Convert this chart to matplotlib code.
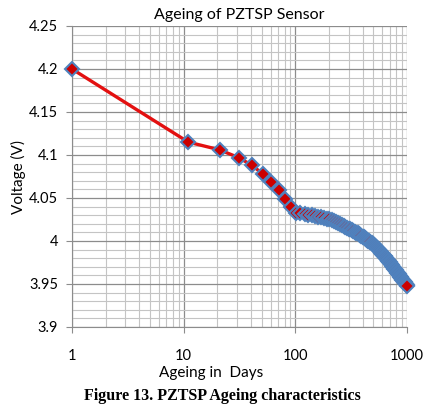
import matplotlib.pyplot as plt
from matplotlib.ticker import MultipleLocator, FixedLocator, NullFormatter

# ageing test: one reading every 10 days
days = list(range(1, 1001, 10)) + [1000]
voltage = [
    4.200, 4.115, 4.106, 4.097, 4.088, 4.078, 4.069, 4.059, 4.049, 4.040,
    4.0330, 4.0322, 4.0314, 4.0306, 4.0298, 4.0290, 4.0282, 4.0274, 4.0266, 4.0258, 4.0250,
    4.0240, 4.0229, 4.0219, 4.0208, 4.0198, 4.0187, 4.0177, 4.0166, 4.0156, 4.0145,
    4.0136, 4.0126, 4.0117, 4.0107, 4.0098, 4.0088, 4.0079, 4.0069, 4.0060, 4.0050,
    4.0041, 4.0032, 4.0023, 4.0014, 4.0005, 3.9996, 3.9987, 3.9978, 3.9969, 3.9960,
    3.9949, 3.9938, 3.9927, 3.9916, 3.9905, 3.9894, 3.9883, 3.9872, 3.9861, 3.9850,
    3.9840, 3.9830, 3.9820, 3.9810, 3.9800, 3.9790, 3.9780, 3.9770, 3.9760, 3.9750,
    3.9740, 3.9730, 3.9720, 3.9710, 3.9700, 3.9690, 3.9680, 3.9670, 3.9660, 3.9650,
    3.9641, 3.9632, 3.9623, 3.9614, 3.9605, 3.9596, 3.9587, 3.9578, 3.9569, 3.9560,
    3.9552, 3.9544, 3.9536, 3.9528, 3.9520, 3.9512, 3.9504, 3.9496, 3.9488, 3.9480,
]
yticks = [3.9, 3.95, 4.0, 4.05, 4.1, 4.15, 4.2, 4.25]
ytick_labels = ["3.9", "3.95", "4", "4.05", "4.1", "4.15", "4.2", "4.25"]
xticks = [1, 10, 100, 1000]
xtick_labels = ["1", "10", "100", "1000"]

plt.rcParams['font.family'] = ['Lato', 'DejaVu Sans']

fig = plt.figure(figsize=(4.33, 4.04), dpi=100)
ax = fig.add_axes([72/433, 1-327/404, 335/433, 301/404])

ax.plot(days, voltage, color='#e31010', lw=2.4, marker='D', ms=7.2,
        mfc='#cc0000', mec='#4f81bd', mew=1.5, clip_on=False, zorder=3)

ax.set_xscale('log')
ax.set_xlim(1, 1000)
ax.set_ylim(3.9, 4.25)
ax.xaxis.set_major_locator(FixedLocator(xticks))
ax.set_xticklabels(xtick_labels)
ax.xaxis.set_minor_formatter(NullFormatter())
ax.set_yticks(yticks)
ax.set_yticklabels(ytick_labels)
ax.yaxis.set_minor_locator(MultipleLocator(0.01))

ax.grid(which='major', color='#8c8c8c', lw=0.9)
ax.grid(which='minor', color='#c4c4c4', lw=0.8)
ax.set_axisbelow(True)
for s in ['top', 'right']:
    ax.spines[s].set_visible(False)
for s in ['left', 'bottom']:
    ax.spines[s].set_color('#8c8c8c')
ax.tick_params(which='major', length=4, color='#8c8c8c', labelsize=10.5, pad=6)
ax.tick_params(axis='x', which='major', pad=12)
ax.tick_params(which='minor', length=0)

ax.set_title("Ageing of PZTSP Sensor", fontsize=11.5, pad=5)
ax.set_ylabel("Voltage (V)", fontsize=11, labelpad=2)
fig.text(211/433, 1-373/404, "Ageing in  Days", fontsize=11, ha='center', va='center')
fig.text(222/433, 1-396/404, "Figure 13. PZTSP Ageing characteristics",
         fontsize=11.5, fontweight='bold', family='Liberation Serif', ha='center', va='center')

fig.savefig('out.png', dpi=100)
